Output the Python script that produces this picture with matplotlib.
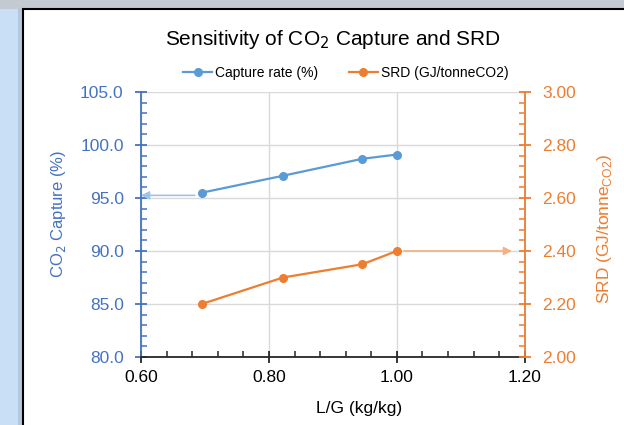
import numpy as np
import matplotlib.pyplot as plt
from matplotlib.patches import Rectangle

plt.rcParams['font.family'] = ['Liberation Sans', 'DejaVu Sans']

# data
lg = [0.695, 0.822, 0.946, 1.0]
capture = [95.5, 97.1, 98.7, 99.1]
srd = [2.20, 2.30, 2.35, 2.40]

# the two pointer arrows (tail x, head x, y)
cap_arrow = (0.695, 0.60, 95.25)
srd_arrow = (1.0, 1.18, 2.40)

blue = '#5B9BD5'
blue_dark = '#4472C4'
orange = '#ED7D31'

fig = plt.figure(figsize=(6.24, 4.25), dpi=100)
fig.patch.set_facecolor('#C9DFF6')

# grey bar at the top and white chart box with a black frame
fig.patches.append(Rectangle((0, 0.979), 1, 0.021, transform=fig.transFigure,
                             facecolor='#C3CAD2', edgecolor='none', zorder=-3))
fig.patches.append(Rectangle((0.029, 0.0), 0.01, 0.979, transform=fig.transFigure,
                             facecolor='#B4C8DD', edgecolor='none', zorder=-3))
fig.patches.append(Rectangle((0.037, -0.01), 1.0, 0.989, transform=fig.transFigure,
                             facecolor='white', edgecolor='black', linewidth=1.5, zorder=-2))

ax = fig.add_axes([0.226, 0.16, 0.615, 0.6235])
ax.set_facecolor('none')
ax2 = ax.twinx()

ax.plot(lg, capture, color=blue, lw=1.6, marker='o', ms=5.5, label='Capture rate (%)', zorder=3)
ax2.plot(lg, srd, color=orange, lw=1.6, marker='o', ms=5.5, label='SRD (GJ/tonneCO2)', zorder=3)

ax.set_xlim(0.60, 1.20)
ax.set_ylim(80, 105)
ax2.set_ylim(2.0, 3.0)
ax.set_xticks(np.arange(0.60, 1.21, 0.20))
ax.set_xticks(np.arange(0.60, 1.21, 0.04), minor=True)
ax.set_yticks(np.arange(80, 105.1, 5))
ax.set_yticks(np.arange(80, 105.1, 1), minor=True)
ax2.set_yticks(np.arange(2.0, 3.01, 0.2))
ax2.set_yticks(np.arange(2.0, 3.01, 0.04), minor=True)
ax.xaxis.set_major_formatter(lambda v, p: f'{v:.2f}')
ax.yaxis.set_major_formatter(lambda v, p: f'{v:.1f}')
ax2.yaxis.set_major_formatter(lambda v, p: f'{v:.2f}')

ax.grid(True, which='major', color='#D9D9D9', lw=1)
ax.set_axisbelow(True)

for a in (ax, ax2):
    a.spines['top'].set_visible(False)
ax.spines['left'].set_color(blue_dark)
ax.spines['right'].set_visible(False)
ax.spines['bottom'].set_color('#262626')
ax2.spines['left'].set_visible(False)
ax2.spines['bottom'].set_visible(False)
ax2.spines['right'].set_color(orange)
for s in ('left', 'bottom'):
    ax.spines[s].set_linewidth(1.3)
ax2.spines['right'].set_linewidth(1.3)

ax.tick_params(axis='x', which='major', direction='inout', length=9, width=1.3,
               color='#262626', labelsize=12.5, labelcolor='black', pad=5)
ax.tick_params(axis='x', which='minor', direction='in', length=4, width=1.1, color='#262626')
ax.tick_params(axis='y', which='major', direction='inout', length=9, width=1.3,
               color=blue_dark, labelsize=12.5, labelcolor=blue_dark, pad=8)
ax.tick_params(axis='y', which='minor', direction='in', length=4, width=1.1, color=blue_dark)
ax2.tick_params(axis='y', which='major', direction='inout', length=9, width=1.3,
                color=orange, labelsize=12.5, labelcolor=orange, pad=8)
ax2.tick_params(axis='y', which='minor', direction='in', length=4, width=1.1, color=orange)

ax.set_xlabel('L/G (kg/kg)', fontsize=12.5)
ax.xaxis.set_label_coords(0.569, -0.165)
ax.set_ylabel('CO$_2$ Capture (%)', fontsize=12, color=blue_dark)
ax.yaxis.set_label_coords(-0.19, 0.54)
ax2.set_ylabel('SRD (GJ/tonne$_{\\mathregular{CO2}}$)', fontsize=12.5, color=orange)
ax2.yaxis.set_label_coords(1.183, 0.485)

ax.annotate('', xy=(cap_arrow[1], cap_arrow[2]), xytext=(cap_arrow[0], cap_arrow[2]),
            arrowprops=dict(arrowstyle='-|>', color='#9DC3E6', lw=1.2, mutation_scale=12,
                            shrinkA=5, shrinkB=0), zorder=2)
ax2.annotate('', xy=(srd_arrow[1], srd_arrow[2]), xytext=(srd_arrow[0], srd_arrow[2]),
             arrowprops=dict(arrowstyle='-|>', color='#F4B183', lw=1.2, mutation_scale=12,
                             shrinkA=5, shrinkB=0), zorder=2)

fig.text(0.533, 0.906, 'Sensitivity of CO$_2$ Capture and SRD', ha='center', va='center',
         fontsize=15, color='black')

h1, l1 = ax.get_legend_handles_labels()
h2, l2 = ax2.get_legend_handles_labels()
fig.legend(h1 + h2, l1 + l2, loc='center', bbox_to_anchor=(0.554, 0.828), ncol=2,
           frameon=False, fontsize=10, handlelength=2.1, columnspacing=2.2, handletextpad=0.2)

fig.savefig('out.png', dpi=100)
